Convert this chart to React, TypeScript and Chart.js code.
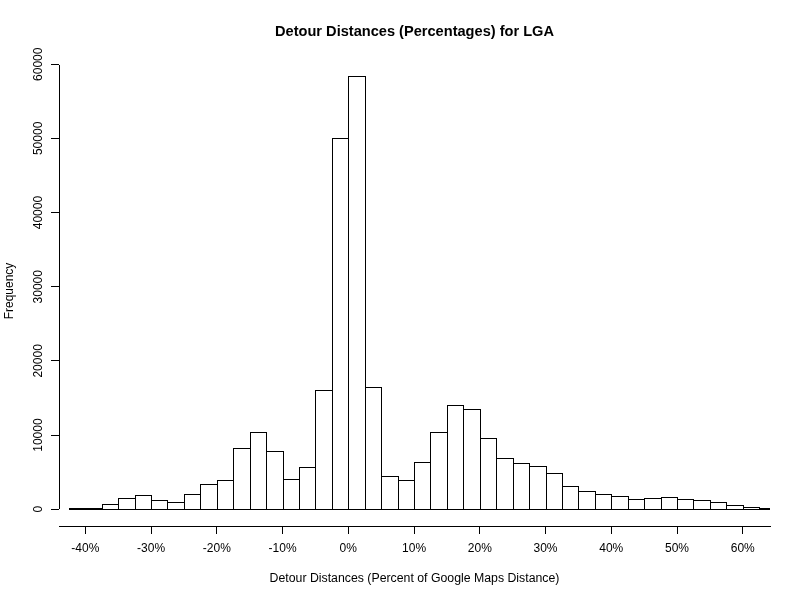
import React, { useEffect, useRef } from "react";
import { Chart, registerables } from "chart.js";

Chart.register(...registerables);

const binStarts = [
  -42.5, -40, -37.5, -35, -32.5, -30, -27.5, -25, -22.5, -20, -17.5, -15, -12.5, -10, -7.5, -5,
  -2.5, 0, 2.5, 5, 7.5, 10, 12.5, 15, 17.5, 20, 22.5, 25, 27.5, 30, 32.5, 35, 37.5, 40, 42.5,
  45, 47.5, 50, 52.5, 55, 57.5, 60, 62.5,
];
const counts = [
  130, 130, 670, 1480, 1880, 1210, 940, 2020, 3370, 3900, 8220, 10370, 7810, 4040, 5660, 16030,
  50000, 58400, 16430, 4450, 3900, 6330, 10370, 14000, 13470, 9560, 6870, 6200, 5790, 4850, 3100,
  2420, 2020, 1750, 1350, 1480, 1620, 1350, 1210, 940, 540, 270, 130,
];
const xTicks = [-40, -30, -20, -10, 0, 10, 20, 30, 40, 50, 60];
const yTicks = [0, 10000, 20000, 30000, 40000, 50000, 60000];

const FONT = "'Liberation Sans', Arial, sans-serif";

// snap the bars to whole pixels so the outlines stay crisp like the R png
const snapBarsPlugin = {
  id: "snapBars",
  afterDatasetsUpdate(chart: any) {
    chart.getDatasetMeta(0).data.forEach((el: any) => {
      const l = Math.round(el.x - el.width / 2);
      const r = Math.round(el.x + el.width / 2) + 1;
      el.x = (l + r) / 2;
      el.width = r - l;
      el.y = Math.round(el.y);
      el.base = Math.round(el.base) + 1;
    });
  },
};

// R style y axis: line only runs between the outer ticks, labels are rotated
const yAxisPlugin = {
  id: "rYAxis",
  afterDraw(chart: any) {
    const { ctx, scales } = chart;
    const y = scales.y;
    const x = Math.round(scales.x.left) + 0.5;
    ctx.save();
    ctx.strokeStyle = "#000";
    ctx.lineWidth = 1;
    ctx.beginPath();
    ctx.moveTo(x, Math.round(y.getPixelForValue(yTicks[0])));
    ctx.lineTo(x, Math.round(y.getPixelForValue(yTicks[yTicks.length - 1])) + 1);
    ctx.stroke();
    ctx.fillStyle = "#000";
    ctx.font = "12px " + FONT;
    ctx.textAlign = "center";
    ctx.textBaseline = "alphabetic";
    yTicks.forEach((t) => {
      ctx.save();
      ctx.translate(42, y.getPixelForValue(t));
      ctx.rotate(-Math.PI / 2);
      ctx.fillText(String(t), 0, 0);
      ctx.restore();
    });
    ctx.restore();
  },
};

const App = () => {
  const chartRef = useRef<HTMLCanvasElement>(null);

  useEffect(() => {
    if (!chartRef.current) return;
    const chart = new Chart(chartRef.current, {
      type: "bar",
      data: {
        datasets: [
          {
            label: "Frequency",
            data: binStarts.map((s, i) => ({ x: s + 1.25, y: counts[i] })),
            backgroundColor: "#fff",
            borderColor: "#000",
            borderWidth: 1,
            borderSkipped: false,
            inflateAmount: 0,
            barPercentage: 1,
            categoryPercentage: 1,
          },
        ],
      } as any,
      plugins: [snapBarsPlugin, yAxisPlugin],
      options: {
        animation: false,
        responsive: false,
        layout: { padding: { top: 0, right: 30, left: 0, bottom: 14 } },
        plugins: {
          legend: { display: false },
          tooltip: { enabled: false },
          title: {
            display: true,
            fullSize: false,
            text: "Detour Distances (Percentages) for LGA",
            color: "#000",
            font: { family: FONT, size: 14.6, weight: "bold" },
            padding: { top: 23, bottom: 15.5 },
          },
        },
        scales: {
          x: {
            type: "linear",
            offset: false,
            min: -44,
            max: 64.14,
            afterBuildTicks: (scale: any) => {
              scale.ticks = xTicks.map((v) => ({ value: v }));
            },
            afterFit: (scale: any) => {
              scale.height = 60;
            },
            grid: {
              offset: false,
              drawOnChartArea: false,
              drawTicks: true,
              tickLength: 8,
              color: "#000",
            },
            border: { display: true, color: "#000", width: 1 },
            ticks: {
              color: "#000",
              font: { family: FONT, size: 12 },
              maxRotation: 0,
              autoSkip: false,
              padding: 7,
              callback: (v: any) => v + "%",
            },
            title: {
              display: true,
              text: "Detour Distances (Percent of Google Maps Distance)",
              color: "#000",
              font: { family: FONT, size: 12.3 },
              padding: { top: 0, bottom: 0 },
            },
          },
          y: {
            type: "linear",
            min: -2265,
            max: 61106,
            afterBuildTicks: (scale: any) => {
              scale.ticks = yTicks.map((v) => ({ value: v }));
            },
            afterFit: (scale: any) => {
              scale.width = 59;
            },
            grid: {
              drawOnChartArea: false,
              drawTicks: true,
              tickLength: 8,
              color: "#000",
            },
            border: { display: false },
            ticks: { display: false },
            title: {
              display: true,
              text: "Frequency",
              color: "#000",
              font: { family: FONT, size: 12 },
              padding: { top: 2, bottom: 0 },
            },
          },
        },
      } as any,
    });
    return () => chart.destroy();
  }, []);

  return (
    <div style={{ position: "absolute", left: 0, top: 0, width: 800, height: 600, background: "#fff" }}>
      <canvas ref={chartRef} width={800} height={600} style={{ display: "block" }} />
    </div>
  );
};

export default App;
